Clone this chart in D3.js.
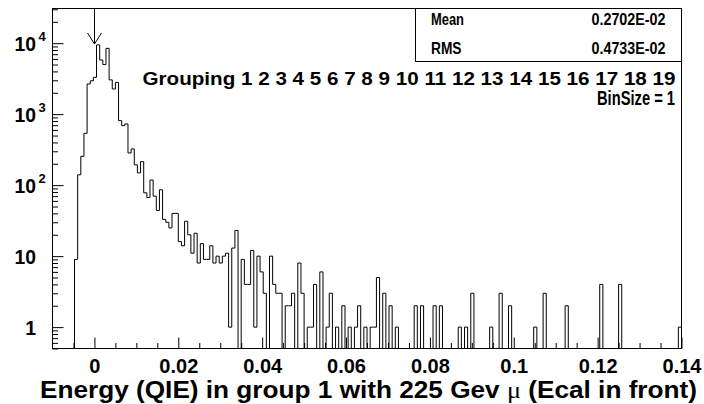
<!DOCTYPE html>
<html><head><meta charset="utf-8">
<script src="https://cdn.jsdelivr.net/npm/d3@7"></script>
<style>html,body{margin:0;padding:0;background:#fff;} svg{display:block;}</style>
</head><body>
<script>
// ---------- data ----------
const xMin = -0.01, xMax = 0.14, nBins = 200;
const binCounts = [
  0,0,0,0,0,0,0,9,140,255,
  537,2660,2950,3300,9450,5800,5000,8450,3040,2265,
  2805,810,689,728,284,324,193,149,214,78,
  67,118,70,44,86,33,30,25,40,40,
  16,14,31,20,11,21,8,15,9,9,
  14,8,10,8,10,11,1,13,23,0,
  9,4,4,12,1,10,6,3,0,10,
  4,3,3,0,2,2,3,0,8,3,
  0,1,1,4,0,6,0,1,3,0,
  1,0,2,0,1,0,1,2,0,1,
  0,1,1,5,0,3,0,2,0,1,
  0,0,0,0,0,2,0,2,0,0,
  0,2,0,2,0,0,0,0,0,1,
  0,1,0,3,0,0,0,0,0,1,
  0,0,3,0,0,2,0,0,0,0,
  0,0,0,1,0,0,3,0,0,0,
  0,0,0,2,0,0,0,0,0,0,
  0,0,0,0,4,0,0,0,0,0,
  4,0,0,0,0,0,0,0,0,0,
  0,0,0,0,0,0,0,0,0,1
];
const xTickValues = [0, 0.02, 0.04, 0.06, 0.08, 0.1, 0.12, 0.14];
const xTickLabels = ["0","0.02","0.04","0.06","0.08","0.1","0.12","0.14"];
const xMinorStep = 0.005;
const yTickValues = [1, 10, 100, 1000, 10000];
const yTickBase = ["1","10","10","10","10"];
const yTickExp = ["","","2","3","4"];
const yRange = [0.5, 30800];
const statNames = ["Mean","RMS"];
const statValues = ["0.2702E-02","0.4733E-02"];
const groupingWord = "Grouping";
const groupNumbers = [1,2,3,4,5,6,7,8,9,10,11,12,13,14,15,16,17,18,19];
const binSizeText = "BinSize = 1";
const arrowAt = [0];
const titleParts = ["Energy (QIE) in group 1 with 225 Gev ", "\u03bc", " (Ecal in front)"];

// ---------- drawing ----------
const W = 704, H = 404;
const FONT = "'Liberation Sans', Arial, Helvetica, sans-serif";
const svg = d3.select("body").append("svg").attr("width", W).attr("height", H)
  .style("font-family", FONT).style("font-weight", "bold");

const fx0 = 52.5, fx1 = 681.5, fy0 = 8.5, fy1 = 348.5;
const x = d3.scaleLinear().domain([xMin, xMax]).range([fx0, fx1]);
const y = d3.scaleLog().domain(yRange).range([fy1, fy0]);

svg.append("defs").append("clipPath").attr("id", "clip")
  .append("rect").attr("x", fx0).attr("y", fy0 - 1).attr("width", fx1 - fx0).attr("height", fy1 - fy0 + 1);

// histogram outline
const binW = (xMax - xMin) / nBins;
const pts = [[x(xMin), fy1]];
binCounts.forEach((c, i) => {
  const yy = c >= yRange[0] ? y(c) : fy1;
  pts.push([x(xMin + i * binW), yy]);
  pts.push([x(xMin + (i + 1) * binW), yy]);
});
pts.push([x(xMax), fy1]);
svg.append("path").attr("clip-path", "url(#clip)")
  .attr("d", d3.line()(pts))
  .attr("fill", "none").attr("stroke", "#000").attr("stroke-width", 1);

// x axis (ticks inward)
const xMinor = d3.range(Math.round((xMin) / xMinorStep) + 1, Math.round(xMax / xMinorStep))
  .map(k => +(k * xMinorStep).toFixed(4))
  .filter(v => !xTickValues.some(t => Math.abs(t - v) < 1e-9));
const gxMinor = svg.append("g").attr("transform", `translate(0,${fy1})`)
  .call(d3.axisBottom(x).tickValues(xMinor).tickSize(-5.5).tickFormat(""));
gxMinor.select(".domain").remove();
const gx = svg.append("g").attr("transform", `translate(0,${fy1})`)
  .call(d3.axisBottom(x).tickValues(xTickValues).tickSize(-11)
    .tickFormat((d, i) => xTickLabels[i]));
gx.select(".domain").remove();
gx.selectAll(".tick line").attr("stroke", "#000");
gxMinor.selectAll(".tick line").attr("stroke", "#000");
gx.selectAll(".tick text").attr("y", 24).attr("dy", 0)
  .style("font-family", FONT).style("font-weight", "bold").style("font-size", "20px").attr("fill", "#000");

// y axis (ticks inward)
const yMinor = [];
for (let e = -1; e <= 4; e++) for (let m = 2; m <= 9; m++) {
  const v = m * Math.pow(10, e);
  if (v >= yRange[0] && v <= yRange[1]) yMinor.push(v);
}
const gyMinor = svg.append("g").attr("transform", `translate(${fx0},0)`)
  .call(d3.axisLeft(y).tickValues(yMinor).tickSize(-5.5).tickFormat(""));
gyMinor.select(".domain").remove();
gyMinor.selectAll(".tick line").attr("stroke", "#000");
const gy = svg.append("g").attr("transform", `translate(${fx0},0)`)
  .call(d3.axisLeft(y).tickValues(yTickValues).tickSize(-11).tickFormat(""));
gy.select(".domain").remove();
gy.selectAll(".tick line").attr("stroke", "#000");

yTickValues.forEach((v, i) => {
  const yy = y(v);
  const tx = svg.append("text").attr("x", 36).attr("y", yy + 7.5).attr("text-anchor", "end")
    .style("font-size", "19.5px").text(yTickBase[i]);
  if (yTickBase[i].length === 2) tx.attr("textLength", 21.5).attr("lengthAdjust", "spacingAndGlyphs");
  if (yTickExp[i]) {
    svg.append("text").attr("x", 38.5).attr("y", yy - 2.5)
      .style("font-size", "13px").text(yTickExp[i]);
  }
});

// frame
svg.append("rect").attr("x", fx0).attr("y", fy0).attr("width", fx1 - fx0).attr("height", fy1 - fy0)
  .attr("fill", "none").attr("stroke", "#000").attr("stroke-width", 1);

// arrow at x = 0
arrowAt.forEach(a => {
  const ax = Math.round(x(a)) + 0.5;
  svg.append("line").attr("x1", ax).attr("x2", ax).attr("y1", fy0).attr("y2", 44)
    .attr("stroke", "#000").attr("stroke-width", 1);
  svg.append("path").attr("d", `M${ax - 7},33 L${ax},44 L${ax + 7},33`)
    .attr("fill", "none").attr("stroke", "#000").attr("stroke-width", 1);
});

// stats box
svg.append("rect").attr("x", 415.5).attr("y", fy0).attr("width", fx1 - 415.5).attr("height", 53)
  .attr("fill", "#fff").attr("stroke", "#000").attr("stroke-width", 1);
const statNameLen = [33, 30.5];
statNames.forEach((n, i) => {
  const by = 24.5 + i * 29;
  svg.append("text").attr("x", 431).attr("y", by).style("font-size", "16.5px")
    .attr("textLength", statNameLen[i]).attr("lengthAdjust", "spacingAndGlyphs").text(n);
  svg.append("text").attr("x", 591.5).attr("y", by)
    .attr("textLength", 74).attr("lengthAdjust", "spacingAndGlyphs")
    .style("font-size", "16.5px").text(statValues[i]);
});

// grouping text
const gText = [groupingWord].concat(groupNumbers.map(String)).join(" ");
svg.append("text").attr("x", 142.5).attr("y", 84.5)
  .attr("textLength", 533).attr("lengthAdjust", "spacingAndGlyphs")
  .style("font-size", "19px").text(gText);
svg.append("text").attr("x", 597).attr("y", 105)
  .attr("textLength", 78).attr("lengthAdjust", "spacingAndGlyphs")
  .style("font-size", "19.5px").text(binSizeText);

// x title
const t = svg.append("text").attr("x", 40).attr("y", 397.5)
  .attr("textLength", 657).attr("lengthAdjust", "spacingAndGlyphs")
  .style("font-size", "23px");
t.append("tspan").text(titleParts[0]);
t.append("tspan").style("font-family", "'Liberation Serif', 'DejaVu Serif', serif")
  .style("font-weight", "normal").text(titleParts[1]);
t.append("tspan").text(titleParts[2]);
</script>
</body></html>
